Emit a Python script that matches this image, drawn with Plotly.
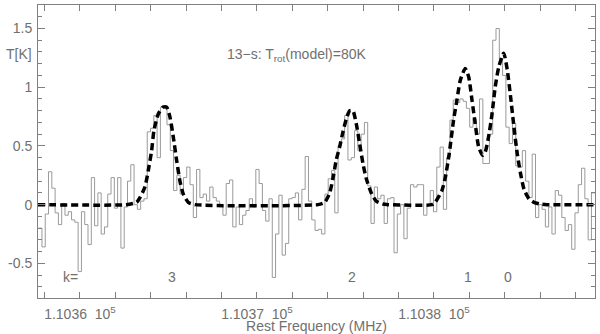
import numpy as np
import plotly.graph_objects as go

# observed spectrum: regular channel grid (MHz) and T (K) read per channel
chan_start_mhz = 110357.667
chan_width_mhz = 0.1859
t_obs = [
    -0.20, -0.36, -0.08, 0.28, 0.14, -0.07, -0.17, 0.01, -0.09, -0.06,
    -0.13, -0.15, -0.57, -0.06, -0.17, -0.34, 0.23, -0.18, 0.10, -0.25,
    -0.19, 0.09, 0.23, -0.03, 0.23, -0.37, -0.02, 0.20, 0.34,
    0.00, -0.04, 0.03, 0.05, 0.62, 0.65, 0.76, 0.40, 0.83, 0.82,
    0.68, 0.46, 0.12, 0.25, 0.09, 0.23, 0.32, 0.17, -0.11, 0.30,
    0.06, 0.09, 0.03, 0.15, 0.06, 0.03, 0.00,
    -0.09, 0.18, 0.21, -0.19, -0.02, -0.17, -0.09, -0.05, 0.05, -0.02,
    0.30, 0.18, -0.05, -0.14, 0.05, -0.62, -0.25, 0.08, -0.43, -0.33,
    0.05, 0.06, 0.10, -0.13, 0.13, 0.41, 0.03, -0.13, -0.22,
    -0.21, -0.25, 0.09, 0.22, 0.29, -0.07, 0.50, 0.56, 0.76, 0.38,
    0.40, 0.63, 0.46, 0.60, 0.70, 0.16, -0.16, 0.15, 0.05, 0.08,
    -0.16, 0.05, 0.06, -0.41, -0.08, 0.00, -0.29, -0.03,
    0.17, 0.15, 0.17, 0.17, -0.09, 0.00, 0.12, -0.06, 0.32, 0.49,
    -0.04, 0.40, 0.72, 0.89, 0.87, 0.90, 0.88, 0.82, 0.66, 0.73,
    0.60, 0.90, 0.35, 0.35, 0.60, 1.40, 1.50, 1.24,
    1.10, 0.66, 0.52, 0.69, 0.33, 0.32, 0.46, 0.20, 0.06, 0.43,
    -0.11, 0.00, -0.04, -0.19, -0.02, -0.25, 0.12, 0.08, -0.11, -0.22,
    -0.17, -0.38, -0.07, 0.17, 0.31, 0.05, -0.30, 0.10,
]

# model curve (dashed)
model_freq = [
    110357.63, 110362.60, 110363.20, 110363.39, 110363.67, 110363.86, 110364.05,
    110364.18, 110364.42, 110364.69, 110364.90, 110365.08, 110365.27, 110365.46,
    110365.65, 110365.84, 110366.12, 110366.50,
    110373.45, 110373.83, 110374.11, 110374.29, 110374.48, 110374.67, 110374.86,
    110375.05, 110375.24, 110375.42, 110375.61, 110375.80, 110375.99, 110376.18,
    110376.46, 110376.74, 110377.12, 110377.40,
    110379.89, 110380.07, 110380.45, 110380.64, 110380.86, 110381.11, 110381.30,
    110381.49, 110381.77, 110381.96, 110382.15, 110382.33, 110382.53, 110382.75,
    110382.90, 110383.09, 110383.28, 110383.46, 110383.66, 110383.94, 110384.14,
    110384.33, 110384.52, 110384.71, 110384.90, 110385.09, 110385.37, 110385.65,
    110386.03, 110386.38, 110389.10,
]
model_t = [
    0.0, 0.0, 0.02, 0.06, 0.15, 0.29, 0.46,
    0.63, 0.77, 0.83, 0.83, 0.75, 0.58, 0.38,
    0.20, 0.09, 0.02, 0.0,
    0.0, 0.02, 0.10, 0.22, 0.38, 0.49, 0.62,
    0.73, 0.80, 0.80, 0.69, 0.52, 0.35, 0.22,
    0.10, 0.03, 0.005, 0.0,
    0.0, 0.02, 0.12, 0.23, 0.43, 0.72, 0.89,
    1.06, 1.16, 1.09, 0.89, 0.69, 0.49, 0.42,
    0.45, 0.58, 0.77, 1.00, 1.17, 1.29, 1.15,
    0.92, 0.66, 0.43, 0.26, 0.13, 0.05, 0.02,
    0.005, 0.0, 0.0,
]

k_labels = ['k=', '3', '2', '1', '0']
k_freq = [110359.44, 110365.18, 110375.35, 110381.92, 110384.18]
k_level = -0.615

x_ticks = [110360, 110370, 110380]
x_ticktext = ['1.1036&nbsp; 10<sup>5</sup>', '1.1037&nbsp; 10<sup>5</sup>',
              '1.1038&nbsp; 10<sup>5</sup>']
y_ticks = [-0.5, 0, 0.5, 1, 1.5]
y_ticktext = ['-0.5', '0', '0.5', '1', '1.5']

x_range = [110357.63, 110389.10]
y_range = [-0.795, 1.70]

txt = '#707070'
axc = '#808080'
fnt = 'Liberation Sans, Arial, sans-serif'

edges = chan_start_mhz + chan_width_mhz * np.arange(len(t_obs) + 1)
steps = list(t_obs) + [t_obs[-1]]

fig = go.Figure()
fig.add_trace(go.Scatter(
    x=edges, y=steps, mode='lines', line_shape='hv',
    line=dict(color='#9a9a9a', width=1), showlegend=False
))
fig.add_trace(go.Scatter(
    x=model_freq, y=model_t, mode='lines',
    line=dict(color='black', width=3.5, dash='7px,4px', shape='spline', smoothing=0.6),
    showlegend=False
))

for lab, f in zip(k_labels, k_freq):
    fig.add_annotation(x=f, y=k_level, text=lab, showarrow=False,
                       font=dict(size=14, color=txt, family=fnt))

fig.add_annotation(xref='paper', yref='paper', x=0.4645, y=0.867,
                   text='13\u2212s: T<sub>rot</sub>(model)=80K', showarrow=False,
                   font=dict(size=14, color=txt, family=fnt))
fig.add_annotation(xref='paper', yref='paper', x=-0.007, y=0.867, xanchor='right',
                   text='T[K]', showarrow=False,
                   font=dict(size=14, color=txt, family=fnt))

fig.update_xaxes(
    range=x_range, tickmode='array', tickvals=x_ticks, ticktext=x_ticktext,
    ticks='inside', ticklen=6, tickcolor=axc, showline=True, linecolor=axc,
    mirror='allticks', showgrid=False, zeroline=False,
    minor=dict(tickmode='linear', tick0=110360, dtick=2, ticks='inside',
               ticklen=6, tickcolor=axc),
    tickfont=dict(size=14, color=txt, family=fnt), ticklabelstandoff=3,
    title=dict(text='Rest Frequency (MHz)', standoff=1,
               font=dict(size=14, color=txt, family=fnt)),
)
fig.update_yaxes(
    range=y_range, tickmode='array', tickvals=y_ticks, ticktext=y_ticktext,
    ticks='inside', ticklen=7, tickcolor=axc, showline=True, linecolor=axc,
    mirror='allticks', showgrid=False, zeroline=False,
    minor=dict(tickmode='linear', tick0=0, dtick=0.1, ticks='inside',
               ticklen=4, tickcolor=axc),
    tickfont=dict(size=14, color=txt, family=fnt), ticklabelstandoff=2,
)
fig.update_layout(
    width=600, height=334,
    margin=dict(l=38, r=5, t=5, b=36, autoexpand=False),
    paper_bgcolor='white', plot_bgcolor='white',
)
# page body has a default margin; drop it so the figure sits at the window corner
fig.write_html('out.html', config={'displayModeBar': False},
               post_script="document.body.style.margin='0';")
